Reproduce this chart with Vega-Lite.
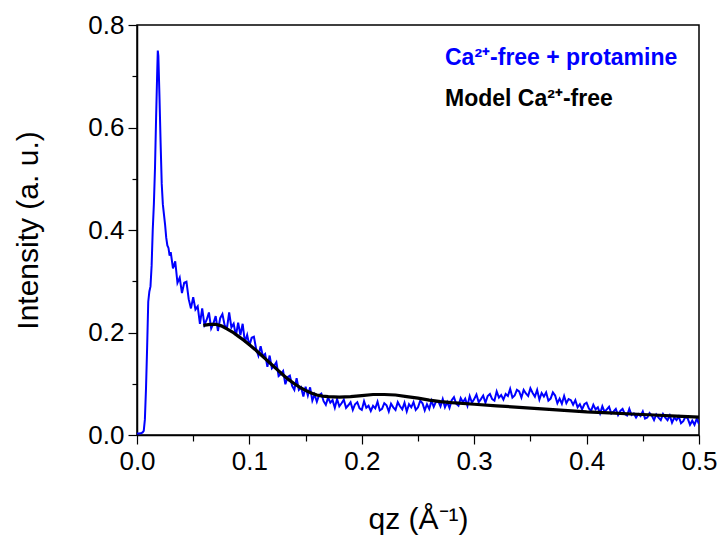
{
  "$schema": "https://vega.github.io/schema/vega-lite/v6.json",
  "autosize": {"type": "none"},
  "width": 562,
  "height": 410,
  "padding": {"left": 137, "top": 25, "right": 22, "bottom": 111},
  "background": "white",
  "config": {
    "view": {"stroke": "black", "strokeWidth": 1.5},
    "axis": {"grid": false, "domainColor": "black", "tickColor": "black", "domainWidth": 1.5, "tickWidth": 1.2, "labelColor": "black", "titleColor": "black", "labelFont": "Liberation Sans", "titleFont": "Liberation Sans", "labelFontSize": 26, "titleFontSize": 30, "titleFontWeight": "normal", "labelFlush": false, "labelOverlap": false}
  },
  "datasets": {
    "blue": [
      {"q":0.000,"y":0.003},{"q":0.002,"y":0.003},{"q":0.004,"y":0.004},{"q":0.005,"y":0.005},{"q":0.006,"y":0.008},{"q":0.007,"y":0.03},{"q":0.008,"y":0.09},{"q":0.009,"y":0.17},{"q":0.010,"y":0.26},{"q":0.011,"y":0.28},{"q":0.012,"y":0.29},{"q":0.013,"y":0.33},{"q":0.014,"y":0.40},{"q":0.015,"y":0.45},{"q":0.016,"y":0.52},{"q":0.017,"y":0.62},{"q":0.018,"y":0.71},{"q":0.0185,"y":0.75},{"q":0.019,"y":0.74},{"q":0.020,"y":0.66},{"q":0.021,"y":0.57},{"q":0.022,"y":0.49},{"q":0.023,"y":0.45},{"q":0.024,"y":0.43},{"q":0.025,"y":0.41},{"q":0.026,"y":0.385},{"q":0.027,"y":0.37},{"q":0.028,"y":0.365},{"q":0.029,"y":0.35},
      {"q":0.030,"y":0.357},{"q":0.032,"y":0.325},{"q":0.034,"y":0.339},{"q":0.036,"y":0.297},{"q":0.038,"y":0.307},{"q":0.040,"y":0.277},{"q":0.042,"y":0.297},{"q":0.044,"y":0.299},{"q":0.046,"y":0.265},{"q":0.048,"y":0.247},{"q":0.050,"y":0.269},{"q":0.052,"y":0.245},{"q":0.054,"y":0.251},{"q":0.056,"y":0.217},{"q":0.058,"y":0.247},{"q":0.060,"y":0.215},{"q":0.062,"y":0.225},{"q":0.064,"y":0.239},{"q":0.066,"y":0.208},{"q":0.068,"y":0.218},{"q":0.070,"y":0.232},{"q":0.072,"y":0.203},{"q":0.074,"y":0.228},{"q":0.076,"y":0.236},{"q":0.078,"y":0.214},{"q":0.080,"y":0.208},{"q":0.082,"y":0.239},{"q":0.084,"y":0.210},{"q":0.086,"y":0.217},{"q":0.088,"y":0.194},{"q":0.090,"y":0.219},{"q":0.092,"y":0.195},{"q":0.094,"y":0.217},{"q":0.096,"y":0.181},{"q":0.098,"y":0.195},
      {"q":0.100,"y":0.174},{"q":0.102,"y":0.190},{"q":0.104,"y":0.192},{"q":0.106,"y":0.168},{"q":0.108,"y":0.155},{"q":0.110,"y":0.173},{"q":0.112,"y":0.154},{"q":0.114,"y":0.158},{"q":0.116,"y":0.133},{"q":0.118,"y":0.155},{"q":0.120,"y":0.130},{"q":0.122,"y":0.135},{"q":0.124,"y":0.142},{"q":0.126,"y":0.115},{"q":0.128,"y":0.119},{"q":0.130,"y":0.125},{"q":0.132,"y":0.099},{"q":0.134,"y":0.113},{"q":0.136,"y":0.116},{"q":0.138,"y":0.096},{"q":0.140,"y":0.088},{"q":0.142,"y":0.111},{"q":0.144,"y":0.088},{"q":0.146,"y":0.093},{"q":0.148,"y":0.075},{"q":0.150,"y":0.094},{"q":0.152,"y":0.077},{"q":0.154,"y":0.093},{"q":0.156,"y":0.067},{"q":0.158,"y":0.079},
      {"q":0.160,"y":0.065},{"q":0.162,"y":0.078},{"q":0.164,"y":0.081},{"q":0.166,"y":0.066},{"q":0.168,"y":0.059},{"q":0.170,"y":0.073},{"q":0.172,"y":0.063},{"q":0.174,"y":0.068},{"q":0.176,"y":0.053},{"q":0.178,"y":0.070},{"q":0.180,"y":0.056},{"q":0.182,"y":0.062},{"q":0.184,"y":0.069},{"q":0.186,"y":0.053},{"q":0.188,"y":0.058},{"q":0.190,"y":0.064},{"q":0.192,"y":0.049},{"q":0.194,"y":0.060},{"q":0.196,"y":0.064},{"q":0.198,"y":0.052},{"q":0.200,"y":0.049},{"q":0.202,"y":0.066},{"q":0.204,"y":0.053},{"q":0.206,"y":0.057},{"q":0.208,"y":0.047},
      {"q":0.210,"y":0.057},{"q":0.212,"y":0.052},{"q":0.214,"y":0.065},{"q":0.216,"y":0.048},{"q":0.218,"y":0.051},{"q":0.220,"y":0.062},{"q":0.222,"y":0.058},{"q":0.224,"y":0.046},{"q":0.226,"y":0.061},{"q":0.228,"y":0.054},{"q":0.230,"y":0.049},{"q":0.232,"y":0.064},{"q":0.234,"y":0.056},{"q":0.236,"y":0.050},{"q":0.238,"y":0.063},{"q":0.240,"y":0.046},{"q":0.242,"y":0.060},{"q":0.244,"y":0.054},{"q":0.246,"y":0.064},{"q":0.248,"y":0.049},{"q":0.250,"y":0.054},{"q":0.252,"y":0.067},{"q":0.254,"y":0.062},{"q":0.256,"y":0.048},{"q":0.258,"y":0.060},{"q":0.260,"y":0.051},{"q":0.262,"y":0.067},{"q":0.264,"y":0.055},{"q":0.266,"y":0.065},
      {"q":0.268,"y":0.066},{"q":0.270,"y":0.056},{"q":0.272,"y":0.070},{"q":0.274,"y":0.054},{"q":0.276,"y":0.064},{"q":0.278,"y":0.053},{"q":0.280,"y":0.068},{"q":0.282,"y":0.074},{"q":0.284,"y":0.061},{"q":0.286,"y":0.057},{"q":0.288,"y":0.072},{"q":0.290,"y":0.064},{"q":0.292,"y":0.071},{"q":0.294,"y":0.057},{"q":0.296,"y":0.076},{"q":0.298,"y":0.063},{"q":0.300,"y":0.070},{"q":0.302,"y":0.079},{"q":0.304,"y":0.064},{"q":0.306,"y":0.070},{"q":0.308,"y":0.077},{"q":0.310,"y":0.063},{"q":0.312,"y":0.076},{"q":0.314,"y":0.080},{"q":0.316,"y":0.070},{"q":0.318,"y":0.067},{"q":0.320,"y":0.085},{"q":0.322,"y":0.073},{"q":0.324,"y":0.078},{"q":0.326,"y":0.069},
      {"q":0.328,"y":0.080},{"q":0.330,"y":0.076},{"q":0.332,"y":0.090},{"q":0.334,"y":0.073},{"q":0.336,"y":0.077},{"q":0.338,"y":0.088},{"q":0.340,"y":0.085},{"q":0.342,"y":0.073},{"q":0.344,"y":0.088},{"q":0.346,"y":0.081},{"q":0.348,"y":0.076},{"q":0.350,"y":0.091},{"q":0.352,"y":0.082},{"q":0.354,"y":0.075},{"q":0.356,"y":0.088},{"q":0.358,"y":0.069},{"q":0.360,"y":0.082},{"q":0.362,"y":0.075},{"q":0.364,"y":0.083},{"q":0.366,"y":0.067},{"q":0.368,"y":0.071},{"q":0.370,"y":0.083},{"q":0.372,"y":0.077},{"q":0.374,"y":0.062},{"q":0.376,"y":0.071},{"q":0.378,"y":0.061},{"q":0.380,"y":0.076},{"q":0.382,"y":0.062},{"q":0.384,"y":0.070},
      {"q":0.386,"y":0.068},{"q":0.388,"y":0.059},{"q":0.390,"y":0.068},{"q":0.392,"y":0.054},{"q":0.394,"y":0.060},{"q":0.396,"y":0.050},{"q":0.398,"y":0.060},{"q":0.400,"y":0.063},{"q":0.402,"y":0.052},{"q":0.404,"y":0.047},{"q":0.406,"y":0.059},{"q":0.408,"y":0.050},{"q":0.410,"y":0.054},{"q":0.412,"y":0.042},{"q":0.414,"y":0.056},{"q":0.416,"y":0.045},{"q":0.418,"y":0.050},{"q":0.420,"y":0.055},{"q":0.422,"y":0.042},{"q":0.424,"y":0.046},{"q":0.426,"y":0.051},{"q":0.428,"y":0.039},{"q":0.430,"y":0.047},{"q":0.432,"y":0.051},{"q":0.434,"y":0.041},{"q":0.436,"y":0.038},{"q":0.438,"y":0.051},{"q":0.440,"y":0.039},{"q":0.442,"y":0.042},{"q":0.444,"y":0.034},
      {"q":0.446,"y":0.041},{"q":0.448,"y":0.037},{"q":0.450,"y":0.046},{"q":0.452,"y":0.032},{"q":0.454,"y":0.034},{"q":0.456,"y":0.043},{"q":0.458,"y":0.038},{"q":0.460,"y":0.029},{"q":0.462,"y":0.040},{"q":0.464,"y":0.034},{"q":0.466,"y":0.029},{"q":0.468,"y":0.041},{"q":0.470,"y":0.034},{"q":0.472,"y":0.029},{"q":0.474,"y":0.038},{"q":0.476,"y":0.024},{"q":0.478,"y":0.034},{"q":0.480,"y":0.029},{"q":0.482,"y":0.036},{"q":0.484,"y":0.023},{"q":0.486,"y":0.027},{"q":0.488,"y":0.036},{"q":0.490,"y":0.032},{"q":0.492,"y":0.020},{"q":0.494,"y":0.028},{"q":0.496,"y":0.020},{"q":0.498,"y":0.032},{"q":0.500,"y":0.021}
    ],
    "model": [
      {"q":0.059,"y":0.214},{"q":0.065,"y":0.216},{"q":0.070,"y":0.216},{"q":0.075,"y":0.213},{"q":0.080,"y":0.207},{"q":0.085,"y":0.201},{"q":0.090,"y":0.193},{"q":0.095,"y":0.185},{"q":0.100,"y":0.176},{"q":0.105,"y":0.167},{"q":0.110,"y":0.157},{"q":0.115,"y":0.147},{"q":0.120,"y":0.137},{"q":0.125,"y":0.127},{"q":0.130,"y":0.117},{"q":0.135,"y":0.108},{"q":0.140,"y":0.100},{"q":0.145,"y":0.093},{"q":0.150,"y":0.087},{"q":0.155,"y":0.082},{"q":0.160,"y":0.078},{"q":0.165,"y":0.076},{"q":0.170,"y":0.075},{"q":0.180,"y":0.074},{"q":0.190,"y":0.075},{"q":0.200,"y":0.077},{"q":0.210,"y":0.079},{"q":0.220,"y":0.079},{"q":0.230,"y":0.078},{"q":0.240,"y":0.075},{"q":0.250,"y":0.072},{"q":0.260,"y":0.068},{"q":0.270,"y":0.065},{"q":0.280,"y":0.063},{"q":0.300,"y":0.060},{"q":0.320,"y":0.057},{"q":0.340,"y":0.054},{"q":0.360,"y":0.051},{"q":0.380,"y":0.048},{"q":0.400,"y":0.045},{"q":0.420,"y":0.043},{"q":0.440,"y":0.041},{"q":0.460,"y":0.039},{"q":0.480,"y":0.037},{"q":0.500,"y":0.035}
    ]
  },
  "encoding": {
    "x": {"field": "q", "type": "quantitative", "scale": {"domain": [0, 0.5], "nice": false},
      "axis": {"title": "qz (Å⁻¹)", "values": [0,0.05,0.1,0.15,0.2,0.25,0.3,0.35,0.4,0.45,0.5], "labelExpr": "round(datum.value*20) % 2 == 0 ? format(datum.value, '.1f') : ''", "tickSize": {"condition": {"test": "round(datum.value*20) % 2 == 0", "value": 9}, "value": 6}, "labelPadding": 4, "titlePadding": 30}},
    "y": {"field": "y", "type": "quantitative", "scale": {"domain": [0, 0.8], "nice": false},
      "axis": {"title": "Intensity (a. u.)", "values": [0,0.1,0.2,0.3,0.4,0.5,0.6,0.7,0.8], "labelExpr": "round(datum.value*10) % 2 == 0 ? format(datum.value, '.1f') : ''", "tickSize": {"condition": {"test": "round(datum.value*10) % 2 == 0", "value": 9}, "value": 5}, "labelPadding": 4, "titlePadding": 44}}
  },
  "layer": [
    {
      "data": {"name": "blue"},
      "transform": [{"calculate": "'Ca²⁺-free + protamine'", "as": "series"}],
      "mark": {"type": "line", "strokeWidth": 2, "clip": true},
      "encoding": {
        "color": {"field": "series", "type": "nominal",
          "scale": {"domain": ["Ca²⁺-free + protamine", "Model Ca²⁺-free"], "range": ["#0000ff", "#000000"]},
          "legend": {"title": null, "orient": "top-right", "offset": 21, "symbolSize": 0, "symbolStrokeWidth": 0, "symbolOpacity": 0, "labelFont": "Liberation Sans", "labelFontSize": 23, "labelFontWeight": "bold", "labelOffset": 0, "rowPadding": 17, "labelLimit": 400,
            "encode": {"labels": {"update": {"fill": {"scale": "color", "field": "value"}}}}}
        }
      }
    },
    {
      "data": {"name": "model"},
      "transform": [{"calculate": "'Model Ca²⁺-free'", "as": "series"}],
      "mark": {"type": "line", "strokeWidth": 3.2, "clip": true},
      "encoding": {
        "color": {"field": "series", "type": "nominal"}
      }
    }
  ]
}
